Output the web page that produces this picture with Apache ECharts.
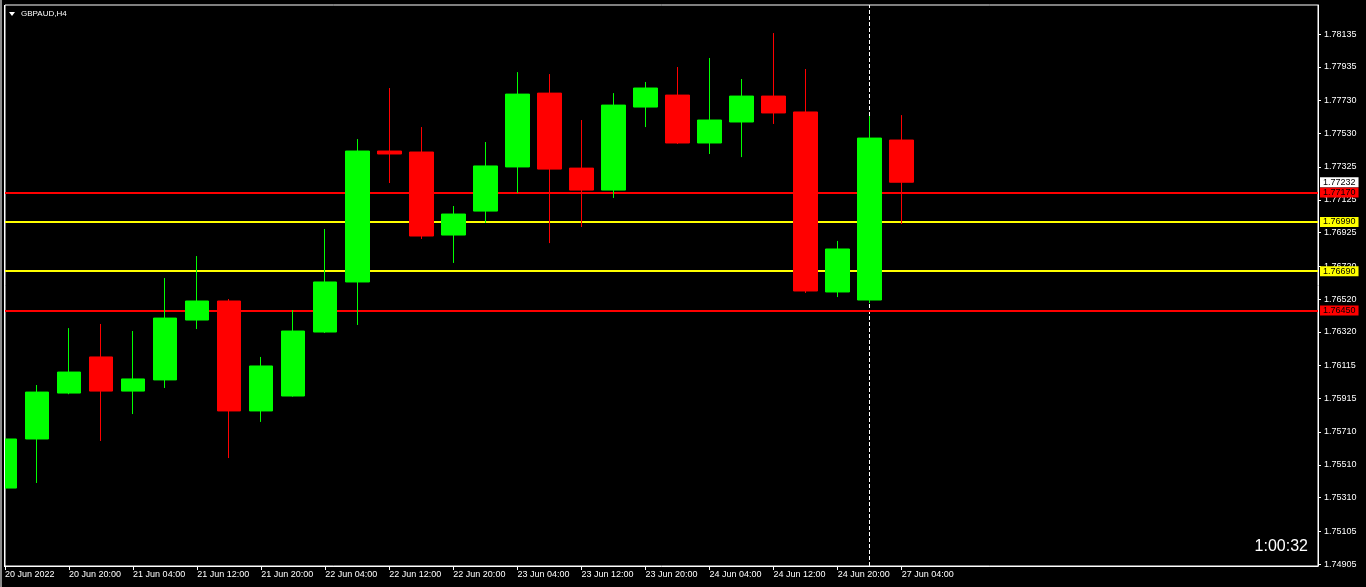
<!DOCTYPE html>
<html>
<head>
<meta charset="utf-8">
<script src="https://cdn.jsdelivr.net/npm/echarts@6/dist/echarts.min.js"></script>
<style>
html,body{margin:0;padding:0;background:#000;}
#chart{width:1366px;height:587px;}
</style>
</head>
<body>
<div id="chart"></div>
<script>
// ---- data ----
const categories = ['20 Jun 12:00','20 Jun 16:00','20 Jun 20:00','21 Jun 00:00','21 Jun 04:00','21 Jun 08:00','21 Jun 12:00','21 Jun 16:00','21 Jun 20:00','22 Jun 00:00','22 Jun 04:00','22 Jun 08:00','22 Jun 12:00','22 Jun 16:00','22 Jun 20:00','23 Jun 00:00','23 Jun 04:00','23 Jun 08:00','23 Jun 12:00','23 Jun 16:00','23 Jun 20:00','24 Jun 00:00','24 Jun 04:00','24 Jun 08:00','24 Jun 12:00','24 Jun 16:00','24 Jun 20:00','27 Jun 00:00','27 Jun 04:00'];
const firstLabel = '20 Jun 2022';
const opens  = [1.75368,1.75667,1.75947,1.76167,1.75959,1.76027,1.76392,1.76508,1.75838,1.75929,1.76319,1.76624,1.77422,1.77416,1.76910,1.77056,1.77325,1.77775,1.77318,1.77184,1.77690,1.77763,1.77471,1.77599,1.77757,1.77660,1.76563,1.76514,1.77489];
const closes = [1.75667,1.75953,1.76075,1.75959,1.76033,1.76404,1.76508,1.75838,1.76112,1.76325,1.76624,1.77422,1.77404,1.76904,1.77038,1.77331,1.77769,1.77312,1.77184,1.77702,1.77806,1.77471,1.77611,1.77757,1.77654,1.76569,1.76825,1.77501,1.77232];
const lows   = [1.75204,1.75399,1.75940,1.75655,1.75819,1.75978,1.76337,1.75551,1.75771,1.75925,1.76313,1.76362,1.77227,1.76886,1.76740,1.76983,1.77166,1.76861,1.76959,1.77136,1.77568,1.77465,1.77404,1.77385,1.77587,1.76557,1.76532,1.76496,1.76977];
const highs  = [1.75697,1.75996,1.76343,1.76368,1.76325,1.76648,1.76782,1.76520,1.76167,1.76453,1.76947,1.77495,1.77806,1.77568,1.77087,1.77477,1.77903,1.77891,1.77611,1.77775,1.77843,1.77934,1.77989,1.77861,1.78141,1.77922,1.76874,1.77635,1.77641];
const futureSlots = 13;
const yTickLabels = ['1.78135','1.77935','1.77730','1.77530','1.77325','1.77125','1.76925','1.76720','1.76520','1.76320','1.76115','1.75915','1.75710','1.75510','1.75310','1.75105','1.74905'];
const redLevels = [1.77170, 1.76450];
const yellowLevels = [1.76990, 1.76690];
const bidPrice = 1.77232;
const separatorAt = '27 Jun 00:00';
const symbolTitle = 'GBPAUD,H4';
const timerText = '1:00:32';

// ---- build ----
const allCats = categories.concat(Array.from({length: futureSlots}, (_, i) => 'f' + i));
const candleData = categories.map((c, i) => [opens[i], closes[i], lows[i], highs[i]]);
const lastLabeled = categories.length - 1;
const showTick = (i) => i <= lastLabeled && i % 2 === 0;
const font = "'Liberation Sans', Arial, sans-serif";

function levelLine(v, color, w, boxColor) {
  return [
    {
      coord: [allCats[0], v],
      lineStyle: {color: color, width: w, type: 'solid'},
      label: {
        show: true, position: 'end', distance: 2,
        formatter: v.toFixed(5),
        color: '#000000', backgroundColor: boxColor,
        padding: [1, 3, 0, 3], fontSize: 9, lineHeight: 9, fontFamily: font
      }
    },
    {coord: [allCats[allCats.length - 1], v]}
  ];
}

const chart = echarts.init(document.getElementById('chart'), null, {renderer: 'canvas'});
chart.setOption({
  backgroundColor: '#000000',
  animation: false,
  grid: {left: 5, right: 48, top: 5, bottom: 21, show: true, borderColor: '#ffffff', borderWidth: 1, backgroundColor: 'transparent'},
  xAxis: {
    type: 'category', data: allCats, boundaryGap: false,
    axisLine: {show: true, lineStyle: {color: '#ffffff', width: 1}},
    axisTick: {show: true, interval: (i) => showTick(i), length: 4, lineStyle: {color: '#ffffff'}},
    axisLabel: {
      show: true, interval: (i) => showTick(i), align: 'left', margin: 4,
      color: '#ffffff', fontSize: 9, fontFamily: font,
      formatter: (v, i) => (i === 0 ? firstLabel : v)
    },
    splitLine: {show: false}
  },
  yAxis: {
    type: 'value', position: 'right', scale: true,
    min: 1.74893, max: 1.78312,
    axisLine: {show: true, lineStyle: {color: '#ffffff', width: 1}},
    axisTick: {show: true, length: 3, lineStyle: {color: '#ffffff'}, customValues: yTickLabels.map(Number)},
    axisLabel: {
      show: true, color: '#ffffff', fontSize: 9, fontFamily: font, margin: 6,
      customValues: yTickLabels.map(Number),
      formatter: (v) => v.toFixed(5)
    },
    splitLine: {show: false}
  },
  graphic: [
    {type: 'rect', z: 100, shape: {x: 0, y: 0, width: 2, height: 587}, style: {fill: '#8a8a8a'}, silent: true},
    {type: 'rect', z: 100, shape: {x: 2, y: 0, width: 2, height: 587}, style: {fill: '#000000'}, silent: true},
    {type: 'rect', z: 100, shape: {x: 4, y: 5, width: 1, height: 562}, style: {fill: '#ffffff'}, silent: true},
    {type: 'polygon', z: 100, shape: {points: [[9, 12], [15, 12], [12, 16]]}, style: {fill: '#ffffff'}, silent: true},
    {type: 'text', z: 100, x: 21, y: 14, style: {text: symbolTitle, fill: '#ffffff', font: "8px 'Liberation Sans', Arial, sans-serif", verticalAlign: 'middle'}, silent: true},
    {type: 'text', z: 100, x: 1308, y: 547, style: {text: timerText, fill: '#ffffff', font: "16px 'Liberation Sans', Arial, sans-serif", align: 'right', verticalAlign: 'middle'}, silent: true}
  ],
  series: [
    {
      type: 'candlestick', data: candleData, z: 3, barWidth: 24, silent: true,
      itemStyle: {color: '#00ff00', color0: '#ff0000', borderColor: '#00ff00', borderColor0: '#ff0000', borderWidth: 1},
      emphasis: {disabled: true},
      markLine: {
        silent: true, symbol: ['none', 'none'], animation: false, z: 1,
        data: [
          [
            {coord: [separatorAt, 1.74893], lineStyle: {color: '#ffffff', width: 1, type: [4, 2]}, label: {show: false}},
            {coord: [separatorAt, 1.78312]}
          ],
          levelLine(redLevels[0], '#ff0000', 2, '#ff0000'),
          levelLine(redLevels[1], '#ff0000', 2, '#ff0000'),
          levelLine(yellowLevels[0], '#ffff00', 2, '#ffff00'),
          levelLine(yellowLevels[1], '#ffff00', 2, '#ffff00'),
          levelLine(bidPrice, 'rgba(0,0,0,0)', 0, '#ffffff')
        ]
      }
    }
  ]
});
</script>
</body>
</html>
